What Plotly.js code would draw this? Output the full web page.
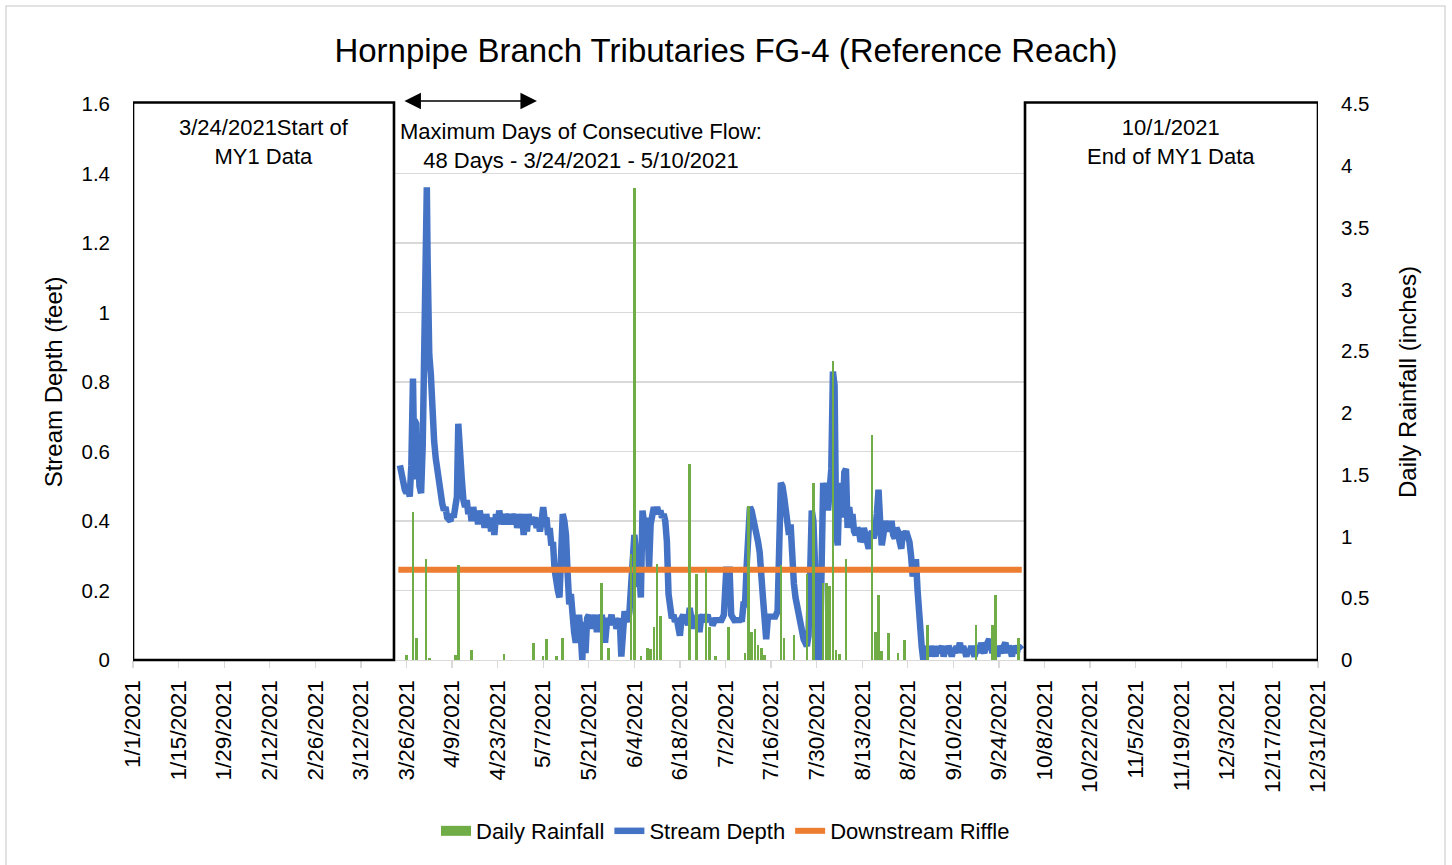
<!DOCTYPE html>
<html>
<head>
<meta charset="utf-8">
<script src="https://cdn.plot.ly/plotly-3.0.1.min.js"></script>
<style>html,body{margin:0;padding:0;background:#fff;}#chart{width:1452px;height:865px;}</style>
</head>
<body>
<div id="chart"></div>
<script>
// ---------- DATA ----------
const tickDates = ['2021-01-01','2021-01-15','2021-01-29','2021-02-12','2021-02-26','2021-03-12','2021-03-26','2021-04-09','2021-04-23','2021-05-07','2021-05-21','2021-06-04','2021-06-18','2021-07-02','2021-07-16','2021-07-30','2021-08-13','2021-08-27','2021-09-10','2021-09-24','2021-10-08','2021-10-22','2021-11-05','2021-11-19','2021-12-03','2021-12-17','2021-12-31'];
const tickLabels = ['1/1/2021','1/15/2021','1/29/2021','2/12/2021','2/26/2021','3/12/2021','3/26/2021','4/9/2021','4/23/2021','5/7/2021','5/21/2021','6/4/2021','6/18/2021','7/2/2021','7/16/2021','7/30/2021','8/13/2021','8/27/2021','9/10/2021','9/24/2021','10/8/2021','10/22/2021','11/5/2021','11/19/2021','12/3/2021','12/17/2021','12/31/2021'];

// Daily rainfall (inches), secondary axis
const rainDates = ['03-26','03-28','03-29','04-01','04-02','04-10','04-11','04-15','04-25','05-04','05-07','05-08','05-11','05-13','05-25','05-27','06-03','06-04','06-06','06-08','06-09','06-10','06-11','06-12','06-21','06-23','06-26','06-27','06-29','07-03','07-08','07-09','07-10','07-11','07-12','07-13','07-14','07-19','07-20','07-23','07-27','07-29','08-01','08-02','08-03','08-04','08-05','08-06','08-08','08-16','08-17','08-18','08-19','08-21','08-24','08-26','09-02','09-17','09-22','09-23','09-30'];
const rainValues = [0.04,1.20,0.18,0.82,0.02,0.04,0.77,0.08,0.05,0.14,0.03,0.17,0.03,0.18,0.62,0.10,0.86,3.82,0.03,0.10,0.09,0.27,0.78,0.36,1.59,0.70,0.74,0.27,0.03,0.27,0.06,1.25,0.23,0.25,0.12,0.10,0.04,0.77,0.18,0.20,0.70,1.43,0.62,0.62,0.60,2.42,0.08,0.05,0.82,1.82,0.23,0.53,0.07,0.22,0.06,0.16,0.28,0.28,0.28,0.53,0.18];

// Stream depth (feet), format 'MM-DD HH'
const depthTimes = [
'03-24 00','03-24 12','03-25 00','03-25 12','03-26 00','03-26 12','03-27 00','03-27 12','03-28 00','03-28 06','03-28 12','03-29 00','03-29 06','03-29 12','03-30 00','03-30 12','03-31 00','03-31 12',
'04-01 00','04-01 06','04-01 12','04-01 18','04-02 00','04-02 12','04-03 00','04-03 12','04-04 00','04-04 12','04-05 00','04-05 12','04-06 00','04-06 12','04-07 00','04-07 12','04-08 00','04-08 12','04-09 00','04-09 12','04-10 00','04-10 12','04-10 22','04-11 06','04-11 12',
'04-12 00','04-12 12','04-13 00','04-13 12','04-14 00','04-14 12','04-15 00','04-15 12','04-16 00','04-16 12','04-17 00','04-17 12','04-18 00','04-18 12','04-19 00','04-19 12','04-20 00','04-20 12','04-21 00','04-21 12','04-22 00','04-22 12','04-23 00','04-23 12','04-24 00','04-24 12','04-25 00','04-25 12','04-26 00','04-26 12','04-27 00','04-27 12','04-28 00','04-28 12','04-29 00','04-29 12','04-30 00','04-30 12',
'05-01 00','05-01 12','05-02 00','05-02 12','05-03 00','05-03 12','05-04 00','05-04 12','05-05 00','05-05 12','05-06 00','05-06 12','05-07 00','05-07 12','05-08 00','05-08 12','05-09 00','05-09 12','05-10 00','05-10 12','05-11 00','05-11 12','05-12 00','05-12 12','05-13 00','05-13 12','05-14 00','05-14 12','05-15 00','05-15 12','05-16 00','05-16 12','05-17 00','05-17 12','05-18 00','05-18 12','05-19 00','05-19 12','05-20 00','05-20 12','05-21 00','05-21 12','05-22 00','05-22 12','05-23 00','05-23 12','05-24 00','05-24 12','05-25 00','05-25 12','05-26 00','05-26 12','05-27 00','05-27 12','05-28 00','05-28 12','05-29 00','05-29 12','05-30 00','05-30 12','05-31 00','05-31 12',
'06-01 00','06-01 12','06-02 00','06-02 12','06-03 00','06-03 12','06-04 00','06-04 12','06-05 00','06-05 12','06-06 00','06-06 12','06-07 00','06-07 12','06-08 00','06-08 12','06-09 00','06-09 12','06-10 00','06-10 12','06-11 00','06-11 12','06-12 00','06-12 12','06-13 00','06-13 12','06-14 00','06-14 12','06-15 00','06-15 12','06-16 00','06-16 12','06-17 00','06-17 12','06-18 00','06-18 12','06-19 00','06-19 12','06-20 00','06-20 12','06-21 00','06-21 12','06-22 00','06-22 12','06-23 00','06-23 12','06-24 00','06-24 12','06-25 00','06-25 12','06-26 00','06-26 12','06-27 00','06-27 12','06-28 00','06-28 12','06-29 00','06-29 12','06-30 00','06-30 12',
'07-01 00','07-01 12','07-02 06','07-02 18','07-03 06','07-03 18','07-04 12','07-05 00','07-05 12','07-06 00','07-06 12','07-07 00','07-07 12','07-08 00','07-08 12','07-09 00','07-09 12','07-10 00','07-10 12','07-11 00','07-11 12','07-12 00','07-12 12','07-13 00','07-13 12','07-14 00','07-14 12','07-15 00','07-15 12','07-16 00','07-16 12','07-17 00','07-17 12','07-18 00','07-19 00','07-19 12','07-20 00','07-20 12','07-21 00','07-21 12','07-22 00','07-22 12','07-23 00','07-23 12','07-24 00','07-24 12','07-25 00','07-25 12','07-26 00','07-26 12','07-27 00','07-27 12','07-28 00','07-28 12','07-29 00','07-29 06','07-29 18','07-30 00','07-30 12','07-31 00','07-31 12',
'08-01 00','08-01 12','08-02 00','08-02 12','08-03 00','08-03 12','08-04 00','08-04 12','08-05 00','08-05 12','08-06 00','08-06 12','08-07 00','08-07 12','08-08 00','08-08 12','08-09 00','08-09 12','08-10 00','08-10 12','08-11 00','08-11 12','08-12 00','08-12 12','08-13 00','08-13 12','08-14 00','08-14 12','08-15 00','08-15 12','08-16 00','08-16 12','08-17 00','08-17 12','08-18 00','08-18 12','08-19 00','08-19 12','08-20 00','08-20 12','08-21 00','08-21 12','08-22 00','08-22 12','08-23 00','08-23 12','08-24 00','08-24 12','08-25 00','08-25 12','08-26 00','08-26 12','08-27 00','08-27 12','08-28 00','08-28 12','08-29 00','08-29 12','08-30 00','08-30 06','08-30 18','08-31 06','08-31 18',
'09-01 00','09-01 12','09-02 00','09-02 12','09-03 00','09-03 12','09-04 00','09-04 12','09-05 00','09-05 12','09-06 00','09-06 12','09-07 00','09-07 12','09-08 00','09-08 12','09-09 00','09-09 12','09-10 00','09-10 12','09-11 00','09-11 12','09-12 00','09-12 12','09-13 00','09-13 12','09-14 00','09-14 12','09-15 00','09-15 12','09-16 00','09-16 12','09-17 00','09-17 12','09-18 00','09-18 12','09-19 00','09-19 12','09-20 00','09-20 12','09-21 00','09-21 12','09-22 00','09-22 12','09-23 00','09-23 12','09-24 00','09-24 12','09-25 00','09-25 12','09-26 00','09-26 12','09-27 00','09-27 12','09-28 00','09-28 12','09-29 00','09-29 12','09-30 00','09-30 12','10-01 00'
];
const depthValues = [
0.56,0.53,0.51,0.49,0.48,0.50,0.47,0.56,0.81,0.66,0.69,0.68,0.52,0.60,0.50,0.48,0.62,0.95,
1.28,1.36,1.15,0.90,0.88,0.82,0.66,0.63,0.58,0.54,0.50,0.47,0.45,0.43,0.44,0.41,0.40,0.40,0.42,0.41,0.44,0.47,0.68,0.60,0.58,
0.52,0.46,0.44,0.46,0.42,0.44,0.40,0.44,0.41,0.43,0.39,0.43,0.40,0.42,0.38,0.42,0.39,0.41,0.37,0.40,0.36,0.42,0.39,0.43,0.40,0.42,0.39,0.42,0.40,0.42,0.39,0.42,0.40,0.42,0.38,0.41,0.39,0.42,
0.36,0.40,0.37,0.42,0.39,0.41,0.40,0.41,0.38,0.40,0.37,0.40,0.44,0.40,0.41,0.36,0.38,0.33,0.34,0.26,0.22,0.20,0.18,0.35,0.42,0.40,0.36,0.25,0.16,0.19,0.12,0.08,0.05,0.12,0.13,0.08,0.00,0.11,0.02,0.12,0.13,0.09,0.12,0.10,0.13,0.08,0.12,0.11,0.13,0.09,0.05,0.10,0.12,0.11,0.13,0.10,0.12,0.09,0.11,0.12,0.01,0.10,
0.14,0.12,0.11,0.14,0.24,0.30,0.36,0.31,0.21,0.25,0.18,0.43,0.38,0.36,0.41,0.26,0.39,0.44,0.44,0.42,0.44,0.42,0.43,0.41,0.42,0.40,0.34,0.19,0.13,0.12,0.13,0.11,0.12,0.07,0.07,0.12,0.13,0.11,0.12,0.10,0.15,0.12,0.09,0.12,0.11,0.13,0.08,0.12,0.13,0.11,0.12,0.13,0.11,0.12,0.10,0.12,0.12,0.11,0.12,0.11,
0.12,0.13,0.26,0.26,0.26,0.13,0.12,0.11,0.12,0.11,0.12,0.11,0.16,0.16,0.27,0.40,0.44,0.43,0.41,0.40,0.38,0.34,0.31,0.20,0.18,0.12,0.06,0.12,0.13,0.12,0.13,0.12,0.13,0.14,0.51,0.50,0.47,0.44,0.40,0.36,0.39,0.27,0.22,0.18,0.15,0.13,0.10,0.08,0.06,0.05,0.04,0.07,0.20,0.43,0.40,0.22,0.21,0.07,0.00,0.00,0.21,
0.51,0.46,0.51,0.43,0.51,0.55,0.83,0.79,0.36,0.33,0.51,0.45,0.41,0.54,0.55,0.38,0.44,0.40,0.42,0.37,0.36,0.38,0.37,0.34,0.35,0.38,0.36,0.34,0.32,0.36,0.37,0.35,0.37,0.42,0.49,0.40,0.33,0.36,0.40,0.38,0.39,0.37,0.40,0.36,0.35,0.38,0.37,0.34,0.32,0.37,0.36,0.37,0.36,0.34,0.30,0.24,0.28,0.29,0.20,0.15,0.13,0.04,0.00,
0.04,0.02,0.03,0.01,0.04,0.02,0.03,0.01,0.04,0.02,0.03,0.04,0.01,0.03,0.02,0.04,0.03,0.01,0.03,0.02,0.04,0.03,0.05,0.02,0.04,0.03,0.01,0.03,0.02,0.04,0.03,0.01,0.03,0.04,0.02,0.05,0.03,0.02,0.04,0.05,0.06,0.04,0.02,0.04,0.03,0.01,0.04,0.03,0.02,0.04,0.05,0.02,0.04,0.03,0.01,0.04,0.03,0.02,0.04,0.03,0.03
];

// Downstream riffle elevation (feet)
const riffleDates = ['2021-03-23 12:00','2021-10-01 00:00'];
const riffleValues = [0.26, 0.26];

// ---------- BUILD ----------
const toDate = s => '2021-' + s.slice(0,5) + ' ' + s.slice(6,8) + ':00';
const depthX = depthTimes.map(toDate);
const rainX = rainDates.map(s => '2021-' + s);

const FONT = 'Liberation Sans, Arial, sans-serif';
const GRID = '#D9D9D9';
const GREEN = '#70AD47', BLUE = '#4472C4', ORANGE = '#ED7D31';

const traces = [
  // legend entry for the rainfall columns (wide swatch like the original legend)
  {type:'scatter', mode:'lines', name:'Daily Rainfall', x:[null], y:[null], yaxis:'y',
   line:{color:GREEN, width:16}, hoverinfo:'skip'},
  {type:'bar', name:'Daily Rainfall', x:rainX, y:rainValues, yaxis:'y2', showlegend:false,
   marker:{color:GREEN, line:{width:0}}, width:0.8*86400000},
  {type:'scatter', mode:'lines', name:'Stream Depth', x:depthX, y:depthValues, yaxis:'y',
   line:{color:BLUE, width:6.5}},
  {type:'scatter', mode:'lines', name:'Downstream Riffle', x:riffleDates, y:riffleValues, yaxis:'y',
   line:{color:ORANGE, width:6}}
];

const layout = {
  width:1452, height:865,
  margin:{l:133, r:134, t:104, b:205},
  paper_bgcolor:'#fff', plot_bgcolor:'#fff',
  font:{family:FONT, size:20, color:'#000'},
  title:{text:'Hornpipe Branch Tributaries FG-4 (Reference Reach)', font:{family:FONT, size:33, color:'#000'},
         x:0.5, xref:'container', y:1-50/865, yref:'container', yanchor:'middle'},
  showlegend:true,
  legend:{orientation:'h', x:0.5, xanchor:'center', y:-0.3076, yanchor:'middle',
          font:{family:FONT, size:22}, traceorder:'normal'},
  bargap:0,
  xaxis:{type:'date', range:['2021-01-01','2021-12-31'], tickmode:'array', tickvals:tickDates, ticktext:tickLabels,
         tickangle:-90, ticks:'outside', ticklen:7, tickcolor:GRID, tickwidth:1.3, ticklabelstandoff:3,
         showgrid:false, showline:true, linecolor:GRID, linewidth:1.3, zeroline:false,
         tickfont:{family:FONT, size:22.5}},
  yaxis:{range:[0,1.6], dtick:0.2, tick0:0, showgrid:true, gridcolor:GRID, gridwidth:1.3, zeroline:false,
         showline:false, ticks:'', ticklabelstandoff:22, tickfont:{family:FONT, size:20.5},
         title:{text:'Stream Depth (feet)', font:{family:FONT, size:24}, standoff:12}},
  yaxis2:{range:[0,4.5], dtick:0.5, tick0:0, overlaying:'y', side:'right', showgrid:false, zeroline:false,
          showline:false, ticks:'', ticklabelstandoff:22, tickfont:{family:FONT, size:20.5},
          title:{text:'Daily Rainfall (inches)', font:{family:FONT, size:24}, standoff:30}},
  shapes:[
    // outer chart border
    {type:'rect', xref:'paper', yref:'paper', x0:(6-133)/1185, x1:(1445-133)/1185, y0:(660-880)/556, y1:(660-6)/556,
     line:{color:GRID, width:1.5}, fillcolor:'rgba(0,0,0,0)', layer:'below'},
    // start-of-data box
    {type:'rect', xref:'x', yref:'paper', x0:'2021-01-01', x1:'2021-03-22 04:00', y0:0, y1:1.0027,
     line:{color:'#000', width:2.6}, fillcolor:'#fff', layer:'above'},
    // end-of-data box
    {type:'rect', xref:'x', yref:'paper', x0:'2021-10-02', x1:'2021-12-31', y0:0, y1:1.0027,
     line:{color:'#000', width:2.6}, fillcolor:'#fff', layer:'above'}
  ],
  annotations:[
    {xref:'paper', yref:'paper', x:(264-133)/1185, y:(660-142)/556, xanchor:'center', yanchor:'middle',
     text:'3/24/2021Start of<br>MY1 Data', showarrow:false, font:{family:FONT, size:22}},
    {xref:'paper', yref:'paper', x:(1171-133)/1185, y:(660-142)/556, xanchor:'center', yanchor:'middle',
     text:'10/1/2021<br>End of MY1 Data', showarrow:false, font:{family:FONT, size:22}},
    {xref:'paper', yref:'paper', x:(581-133)/1185, y:(660-145.5)/556, xanchor:'center', yanchor:'middle',
     text:'Maximum Days of Consecutive Flow:<br>48 Days - 3/24/2021 - 5/10/2021', showarrow:false,
     font:{family:FONT, size:22}},
    {xref:'x', yref:'paper', x:'2021-05-05 02:00', y:(660-101)/556, axref:'pixel', ayref:'pixel', ax:-134, ay:0,
     text:'', showarrow:true, arrowhead:2, startarrowhead:2, arrowside:'end+start', arrowsize:2.2, startarrowsize:2.2,
     arrowwidth:1.5, arrowcolor:'#000', standoff:0, startstandoff:0}
  ]
};

Plotly.newPlot('chart', traces, layout, {displayModeBar:false, staticPlot:true});
</script>
</body>
</html>
